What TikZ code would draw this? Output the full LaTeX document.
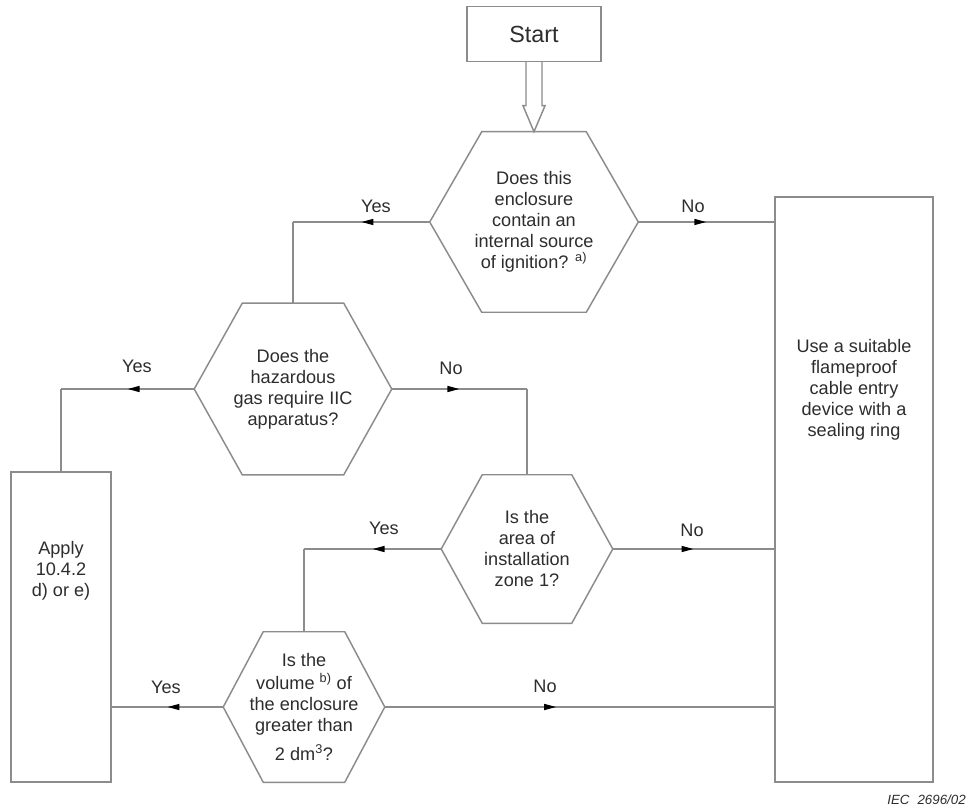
\documentclass[tikz,border=0pt]{standalone}
\usepackage{fontspec}
\setmainfont{Liberation Sans}
\usetikzlibrary{calc,decorations.markings,arrows.meta}
\definecolor{linegray}{RGB}{140,140,140}
\definecolor{txt}{RGB}{45,45,45}
\newdimen\px \px=0.75pt
\newcommand\mainfs{\fontsize{13.6pt}{15.75pt}\selectfont}
\newcommand\startfs{\fontsize{17.5pt}{20pt}\selectfont}
\newcommand\hexpath[2]{\draw[line] (#1.west) -- ([xshift=#2\px]#1.north west) -- ([xshift=-#2\px]#1.north east) -- (#1.east) -- ([xshift=-#2\px]#1.south east) -- ([xshift=#2\px]#1.south west) -- cycle;}
\begin{document}
\begin{tikzpicture}[x=0.75pt,y=-0.75pt,
  line/.style={draw=linegray,line width=1.1pt},
  box/.style={line, rectangle, inner sep=0pt, text=txt, align=center},
  hexa/.style={rectangle, inner sep=0pt, text=txt, align=center, font=\mainfs},
  txtn/.style={text=txt, align=center, font=\mainfs, inner sep=0pt},
  lbl/.style={text=txt, font=\mainfs, inner sep=0pt},
  mid/.style={postaction={decorate},decoration={markings,mark=at position #1 with {\arrow{Triangle[length=9pt,width=4.5pt,color=black]}}}}
]
\useasboundingbox (0,0) rectangle (966,812);
\fill[white] (0,0) rectangle (966,812);

% nodes
\node[box, minimum width=134\px, minimum height=55\px, font=\startfs] (start) at (534,34) {Start};
\node[hexa, minimum width=208\px, minimum height=180\px] (q1) at (534,222) {Does this\\enclosure\\contain an\\internal source\\of ignition? \textsuperscript{a)}};
\node[hexa, minimum width=197\px, minimum height=171\px] (q2) at (293,389) {Does the\\hazardous\\gas require IIC\\apparatus?};
\node[hexa, minimum width=171\px, minimum height=148\px] (q3) at (527,549) {Is the\\area of\\installation\\zone 1?};
\node[hexa, minimum width=161\px, minimum height=150\px] (q4) at (304,707) {Is the\\[2pt]volume \textsuperscript{b)} of\\the enclosure\\greater than\\[6pt]2 dm\textsuperscript{3}?};
\node[box, minimum width=100\px, minimum height=310\px] (lbox) at (61,627) {};
\node[box, minimum width=158\px, minimum height=585\px] (rbox) at (854,489.5) {};
\node[txtn] (ltext) at (61,571) {Apply\\10.4.2\\d) or e)};
\node[txtn] (rtext) at (854,390) {Use a suitable\\flameproof\\cable entry\\device with a\\sealing ring};

\hexpath{q1}{52}
\hexpath{q2}{48}
\hexpath{q3}{41}
\hexpath{q4}{40}

% hollow double arrow from start
\draw[line, fill=white] ($(start.south)+(-8,0)$) -- ($(q1.north)+(-8,-26)$) -- ($(q1.north)+(-11,-26)$) -- (q1.north) -- ($(q1.north)+(11,-26)$) -- ($(q1.north)+(8,-26)$) -- ($(start.south)+(8,0)$);

% connectors
\draw[line, mid=0.5] (q1.west) -- (q1.west -| q2.north) coordinate (c1);
\draw[line] (c1) -- (q2.north);
\draw[line, mid=0.5] (q1.east) -- (q1.east -| rbox.west);
\draw[line, mid=0.5] (q2.west) -- (q2.west -| lbox.north) coordinate (c2);
\draw[line] (c2) -- (lbox.north);
\draw[line, mid=0.5] (q2.east) -- (q2.east -| q3.north) coordinate (c3);
\draw[line] (c3) -- (q3.north);
\draw[line, mid=0.5] (q3.west) -- (q3.west -| q4.north) coordinate (c4);
\draw[line] (c4) -- (q4.north);
\draw[line, mid=0.5] (q3.east) -- (q3.east -| rbox.west);
\draw[line, mid=0.5] (q4.west) -- (q4.west -| lbox.east);
\draw[line, mid=0.44] (q4.east) -- (q4.east -| rbox.west);

% labels
\node[lbl] (y1) at (376,206) {Yes};
\node[lbl] (n1) at (693,206) {No};
\node[lbl] (y2) at (137,366) {Yes};
\node[lbl] (n2) at (451,368) {No};
\node[lbl] (y3) at (384,528) {Yes};
\node[lbl] (n3) at (692,530) {No};
\node[lbl] (y4) at (166,687) {Yes};
\node[lbl] (n4) at (545,686) {No};

\node[text=txt, font=\fontsize{10pt}{12pt}\selectfont\itshape, anchor=east, inner sep=0pt] (iec) at (966,800) {IEC\hspace{0.6em}2696/02};
\end{tikzpicture}
\end{document}
